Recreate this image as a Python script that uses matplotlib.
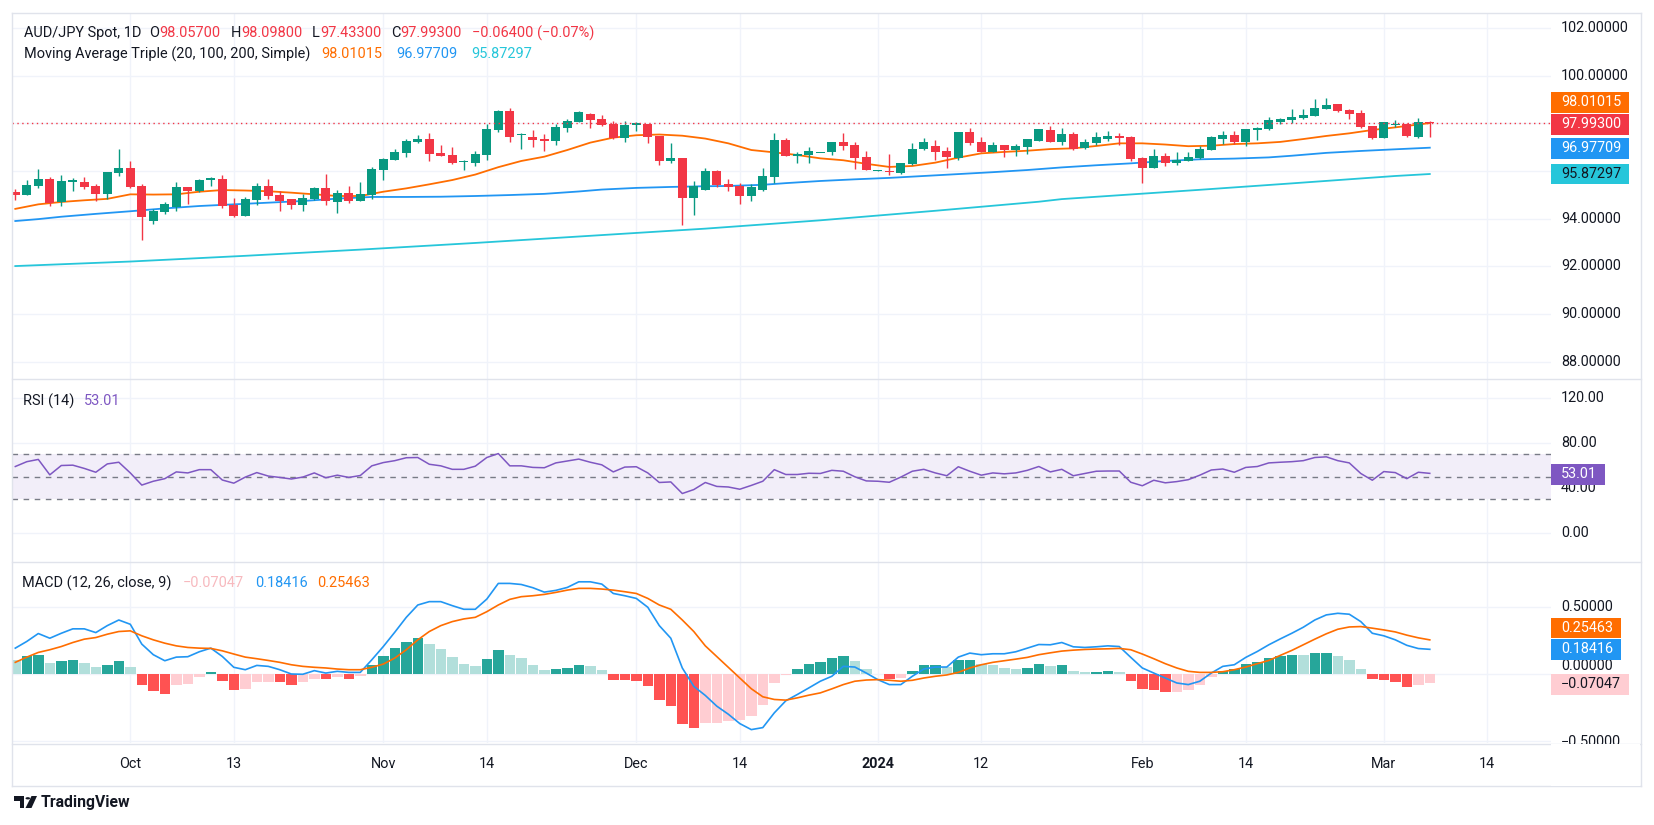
import numpy as np
import matplotlib
matplotlib.use("Agg")
import matplotlib.pyplot as plt
from matplotlib.patches import Rectangle, Polygon, Circle
from matplotlib.lines import Line2D

# ---------------- data ----------------
start_date = "2023-09-18"   # first daily bar (weekdays only)

opens = [95.12, 95.01, 95.37, 95.66, 94.70, 95.55, 95.54, 95.37, 95.04, 95.93,
         96.13, 95.37, 93.90, 94.29, 94.49, 95.33, 95.16, 95.64, 95.67, 94.57,
         94.11, 94.80, 95.37, 94.99, 94.83, 94.59, 94.83, 95.29, 94.71, 95.08,
         94.76, 94.99, 96.04, 96.46, 96.76, 97.22, 97.34, 96.76, 96.67, 96.37,
         96.34, 96.67, 97.72, 98.52, 97.51, 97.43, 97.34, 97.26, 97.81, 98.06,
         98.39, 98.18, 97.97, 97.39, 97.93, 97.97, 97.47, 96.42, 96.55, 94.87,
         95.22, 96.00, 95.46, 95.37, 94.97, 95.22, 95.76, 97.30, 96.64, 96.67,
         96.74, 96.80, 97.22, 97.09, 96.59, 96.01, 95.97, 95.93, 96.31, 96.92,
         97.05, 96.84, 96.55, 97.64, 97.22, 96.80, 97.09, 96.88, 97.01, 97.26,
         97.72, 97.23, 97.55, 96.96, 97.17, 97.34, 97.47, 97.43, 96.55, 96.13,
         96.63, 96.35, 96.42, 96.55, 96.89, 97.34, 97.51, 97.22, 97.73, 97.76,
         98.06, 98.14, 98.24, 98.31, 98.60, 98.81, 98.56, 98.43, 97.89, 97.39,
         97.93, 97.97, 97.44, 98.057]
highs = [95.24, 95.62, 96.08, 95.73, 95.83, 95.69, 95.73, 95.46, 95.96, 96.92,
         96.42, 95.46, 94.39, 94.70, 95.54, 95.33, 95.67, 95.75, 95.83, 94.87,
         94.91, 95.50, 95.67, 95.16, 94.83, 95.04, 95.33, 95.88, 95.20, 95.37,
         95.54, 96.17, 96.55, 96.92, 97.34, 97.51, 97.60, 97.09, 97.01, 96.45,
         96.84, 97.97, 98.56, 98.64, 97.60, 97.72, 97.55, 97.97, 98.18, 98.52,
         98.43, 98.35, 98.10, 98.10, 98.06, 97.97, 97.47, 97.18, 96.55, 95.58,
         96.13, 96.04, 95.67, 95.50, 95.46, 96.13, 97.60, 97.39, 96.80, 97.01,
         96.76, 97.22, 97.60, 97.22, 96.84, 96.04, 96.71, 96.34, 97.18, 97.39,
         97.30, 97.01, 97.64, 97.81, 97.43, 97.22, 97.09, 97.13, 97.34, 97.76,
         97.89, 97.80, 97.64, 97.34, 97.64, 97.68, 97.59, 97.47, 96.59, 96.92,
         96.76, 96.80, 96.80, 97.05, 97.47, 97.68, 97.68, 97.76, 97.85, 98.27,
         98.22, 98.60, 98.60, 99.02, 99.06, 98.81, 98.60, 98.56, 97.89, 98.06,
         98.14, 98.03, 98.22, 98.098]
lows = [94.78, 95.01, 95.29, 94.55, 94.55, 95.18, 95.23, 94.76, 94.84, 95.81,
        95.29, 93.10, 93.78, 94.21, 94.34, 94.63, 95.12, 95.37, 94.46, 94.07,
        94.11, 94.59, 94.84, 94.34, 94.42, 94.34, 94.80, 94.59, 94.25, 94.67,
        94.76, 94.84, 95.62, 96.46, 96.59, 97.18, 96.42, 96.63, 96.30, 96.04,
        96.21, 96.46, 97.64, 97.22, 96.92, 97.01, 96.84, 97.09, 97.64, 98.06,
        97.81, 97.89, 97.34, 97.22, 97.68, 97.18, 96.25, 96.34, 93.75, 94.16,
        95.22, 95.33, 95.18, 94.63, 94.76, 95.18, 95.51, 96.64, 96.34, 96.34,
        96.74, 96.67, 96.88, 96.08, 96.04, 96.01, 95.85, 95.89, 96.27, 96.88,
        96.46, 96.14, 96.46, 97.09, 96.80, 96.80, 96.59, 96.63, 96.71, 97.26,
        97.23, 97.09, 96.88, 96.92, 97.09, 97.26, 97.09, 96.42, 95.50, 96.13,
        96.21, 96.25, 96.42, 96.50, 96.89, 97.13, 97.13, 97.05, 97.30, 97.72,
        97.97, 98.01, 98.20, 98.31, 98.60, 98.48, 98.18, 97.80, 97.34, 97.39,
        97.85, 97.44, 97.38, 97.433]
closes = [95.01, 95.41, 95.66, 94.66, 95.58, 95.64, 95.34, 95.05, 95.96, 96.13,
          95.33, 94.05, 94.32, 94.62, 95.33, 95.16, 95.62, 95.68, 94.53, 94.13,
          94.83, 95.37, 94.97, 94.76, 94.59, 94.87, 95.29, 94.76, 95.08, 94.76,
          95.04, 96.08, 96.51, 96.80, 97.26, 97.34, 96.73, 96.63, 96.34, 96.41,
          96.71, 97.76, 98.52, 97.43, 97.55, 97.30, 97.26, 97.85, 98.10, 98.48,
          98.14, 97.93, 97.39, 97.93, 98.01, 97.43, 96.42, 96.55, 94.87, 95.37,
          96.00, 95.43, 95.34, 94.97, 95.33, 95.79, 97.30, 96.64, 96.71, 96.84,
          96.76, 97.22, 97.05, 96.55, 96.04, 96.04, 95.95, 96.34, 96.92, 97.22,
          96.81, 96.60, 97.64, 97.18, 96.80, 97.09, 96.88, 97.05, 97.34, 97.76,
          97.23, 97.55, 96.92, 97.22, 97.43, 97.47, 97.39, 96.50, 96.13, 96.63,
          96.34, 96.46, 96.59, 96.92, 97.43, 97.51, 97.22, 97.76, 97.80, 98.14,
          98.18, 98.27, 98.35, 98.64, 98.77, 98.52, 98.39, 97.85, 97.39, 98.06,
          97.97, 97.47, 98.06, 97.993]

# moving averages (bar position, value)
ma20_pos = [0, 2, 4, 6, 8, 10, 12, 14, 16, 18, 20, 22, 24, 26, 28, 30, 32, 34, 36, 38,
            40, 42, 44, 46, 48, 50, 52, 54, 56, 58, 60, 62, 64, 66, 68, 70, 72, 74, 76, 78,
            80, 82, 84, 86, 88, 90, 92, 94, 96, 98, 100, 102, 104, 106, 108, 110, 112, 114,
            116, 118, 120, 123]
ma20_val = [94.41, 94.60, 94.70, 94.77, 94.83, 95.02, 95.01, 95.02, 95.13, 95.20,
            95.18, 95.15, 95.09, 95.02, 94.95, 94.95, 95.13, 95.27, 95.44, 95.62,
            95.85, 96.16, 96.42, 96.60, 96.88, 97.19, 97.40, 97.50, 97.53, 97.48,
            97.36, 97.16, 96.88, 96.78, 96.67, 96.53, 96.45, 96.30, 96.17, 96.21,
            96.35, 96.56, 96.74, 96.80, 96.85, 96.92, 96.95, 97.05, 97.16, 97.16,
            97.11, 97.04, 97.06, 97.13, 97.16, 97.22, 97.34, 97.47, 97.58, 97.72,
            97.83, 98.01015]
ma100_pos = [0, 2, 4, 7, 10, 13, 16, 19, 22, 25, 28, 31, 34, 37, 40, 43, 46, 49, 51, 54,
             57, 60, 62, 65, 67, 70, 73, 76, 79, 82, 85, 88, 91, 94, 97, 100, 103, 106,
             109, 111, 114, 117, 120, 123]
ma100_val = [93.90, 93.98, 94.08, 94.20, 94.31, 94.43, 94.53, 94.60, 94.67, 94.74,
             94.84, 94.91, 94.91, 94.92, 94.95, 94.99, 95.04, 95.14, 95.22, 95.29,
             95.33, 95.36, 95.37, 95.42, 95.49, 95.58, 95.65, 95.71, 95.79, 95.87,
             95.95, 96.04, 96.15, 96.24, 96.32, 96.42, 96.49, 96.52, 96.57, 96.64,
             96.76, 96.84, 96.91, 96.97709]
ma200_pos = [0, 10, 20, 30, 40, 50, 60, 70, 80, 89, 91, 103, 111, 120, 123]
ma200_val = [92.01, 92.20, 92.44, 92.70, 92.98, 93.28, 93.58, 93.93, 94.33, 94.71,
             94.82, 95.21, 95.48, 95.79, 95.87297]

rsi = [59.1, 63.4, 65.4, 51.7, 60.0, 60.3, 57.4, 54.0, 61.4, 62.9,
       53.4, 42.6, 46.0, 48.3, 54.3, 53.4, 56.3, 56.3, 47.1, 44.3,
       49.7, 53.7, 50.6, 49.4, 48.0, 49.7, 53.4, 49.1, 51.4, 49.4,
       51.1, 59.7, 62.6, 64.3, 66.9, 67.1, 61.1, 59.7, 56.6, 56.6,
       59.4, 67.1, 70.6, 59.7, 59.7, 58.3, 58.0, 62.3, 64.0, 65.7,
       62.9, 60.6, 54.3, 58.6, 58.9, 53.4, 44.9, 45.4, 35.1, 38.6,
       44.9, 41.4, 40.9, 38.9, 42.3, 46.0, 56.3, 52.0, 52.0, 53.1,
       52.9, 55.7, 54.9, 50.0, 46.3, 46.0, 45.1, 49.7, 54.9, 56.6,
       53.4, 50.9, 58.9, 54.9, 51.4, 53.4, 52.6, 53.4, 55.7, 59.1,
       54.3, 56.6, 50.9, 52.9, 54.9, 55.1, 55.1, 45.1, 42.0, 46.9,
       44.6, 45.7, 47.4, 51.4, 56.0, 56.9, 54.0, 58.3, 59.1, 62.3,
       62.9, 63.4, 64.3, 67.1, 67.7, 64.3, 62.3, 52.9, 46.9, 54.6,
       53.7, 48.3, 54.0, 53.01]

macd = [0.193, 0.243, 0.302, 0.267, 0.304, 0.337, 0.337, 0.309, 0.361, 0.403,
        0.371, 0.223, 0.144, 0.099, 0.126, 0.129, 0.166, 0.193, 0.131, 0.050,
        0.032, 0.064, 0.057, 0.032, 0.000, -0.002, 0.025, 0.007, 0.020, 0.012,
        0.012, 0.106, 0.205, 0.312, 0.423, 0.515, 0.540, 0.540, 0.510, 0.483,
        0.483, 0.559, 0.676, 0.676, 0.668, 0.644, 0.611, 0.624, 0.646, 0.688,
        0.688, 0.671, 0.601, 0.584, 0.564, 0.498, 0.361, 0.267, 0.045, -0.092,
        -0.160, -0.240, -0.300, -0.370, -0.415, -0.400, -0.290, -0.200, -0.153, -0.104,
        -0.054, -0.017, 0.057, 0.052, 0.007, -0.042, -0.079, -0.079, -0.017, 0.037,
        0.052, 0.052, 0.126, 0.156, 0.144, 0.151, 0.151, 0.166, 0.193, 0.220,
        0.218, 0.235, 0.203, 0.198, 0.203, 0.210, 0.205, 0.124, 0.045, 0.007,
        -0.030, -0.067, -0.079, -0.054, 0.007, 0.057, 0.069, 0.124, 0.168, 0.218,
        0.262, 0.304, 0.349, 0.403, 0.441, 0.453, 0.446, 0.391, 0.304, 0.285,
        0.255, 0.214, 0.190, 0.18416]
signal = [0.087, 0.126, 0.161, 0.181, 0.205, 0.235, 0.260, 0.272, 0.297, 0.317,
          0.322, 0.285, 0.255, 0.230, 0.210, 0.198, 0.193, 0.191, 0.173, 0.149,
          0.126, 0.114, 0.101, 0.087, 0.069, 0.057, 0.050, 0.045, 0.037, 0.032,
          0.032, 0.050, 0.074, 0.119, 0.181, 0.255, 0.317, 0.361, 0.391, 0.411,
          0.423, 0.465, 0.515, 0.557, 0.577, 0.584, 0.594, 0.609, 0.626, 0.639,
          0.639, 0.634, 0.626, 0.614, 0.601, 0.564, 0.515, 0.483, 0.403, 0.317,
          0.210, 0.130, 0.050, -0.030, -0.110, -0.170, -0.190, -0.195, -0.178, -0.158,
          -0.141, -0.111, -0.079, -0.054, -0.045, -0.042, -0.047, -0.054, -0.047, -0.030,
          -0.017, -0.007, 0.012, 0.045, 0.069, 0.087, 0.099, 0.111, 0.124, 0.144,
          0.158, 0.171, 0.178, 0.183, 0.186, 0.188, 0.191, 0.181, 0.149, 0.114,
          0.077, 0.045, 0.020, 0.012, 0.012, 0.017, 0.032, 0.052, 0.077, 0.101,
          0.139, 0.176, 0.218, 0.260, 0.300, 0.334, 0.351, 0.354, 0.342, 0.329,
          0.314, 0.290, 0.270, 0.25463]
hist = [0.106, 0.131, 0.144, 0.084, 0.099, 0.106, 0.084, 0.050, 0.069, 0.099,
        0.054, -0.079, -0.129, -0.146, -0.079, -0.072, -0.025, 0.012, -0.054, -0.116,
        -0.109, -0.062, -0.057, -0.062, -0.079, -0.062, -0.035, -0.040, -0.025, -0.035,
        -0.017, 0.069, 0.136, 0.191, 0.238, 0.270, 0.225, 0.188, 0.124, 0.077,
        0.062, 0.114, 0.181, 0.144, 0.116, 0.069, 0.032, 0.035, 0.047, 0.069,
        0.057, 0.032, -0.045, -0.047, -0.054, -0.092, -0.191, -0.238, -0.372, -0.405,
        -0.367, -0.362, -0.354, -0.342, -0.314, -0.233, -0.069, -0.010, 0.040, 0.077,
        0.092, 0.121, 0.136, 0.099, 0.040, 0.002, -0.040, -0.032, 0.025, 0.069,
        0.070, 0.054, 0.106, 0.107, 0.077, 0.069, 0.047, 0.040, 0.047, 0.077,
        0.062, 0.069, 0.025, 0.017, 0.018, 0.019, 0.017, -0.054, -0.114, -0.121,
        -0.136, -0.135, -0.121, -0.084, -0.025, 0.025, 0.040, 0.077, 0.092, 0.121,
        0.136, 0.144, 0.143, 0.158, 0.159, 0.136, 0.106, 0.040, -0.040, -0.047,
        -0.062, -0.096, -0.081, -0.07047]

tick_dates = ["2023-10-02", "2023-10-13", "2023-11-01", "2023-11-14", "2023-12-01",
              "2023-12-14", "2024-01-01", "2024-01-12", "2024-02-01", "2024-02-14",
              "2024-03-01", "2024-03-14"]
tick_labels = ["Oct", "13", "Nov", "14", "Dec", "14", "2024", "12", "Feb", "14", "Mar", "14"]

price_ticks = [102, 100, 98, 96, 94, 92, 90, 88]
rsi_ticks = [120, 80, 40, 0]
macd_ticks = [0.5, 0.0, -0.5]

last_close = 97.993

# ---------------- style ----------------
FONT = ["Roboto", "DejaVu Sans"]
TXT = "#131722"
UP, DN = "#089981", "#F23645"
C20, C100, C200 = "#FF6D00", "#2196F3", "#26C6DA"
RSI_C = "#7E57C2"
GRID = "#F0F3FA"
BORDER = "#E0E3EB"
LEG = 10.45
AXF = 10.4

W, H = 1654, 825
fig = plt.figure(figsize=(W / 100, H / 100), dpi=100)
fig.patch.set_facecolor("white")

L, R = 12, 1551
def rect(x0, y0, x1, y1):
    return [x0 / W, 1 - y1 / H, (x1 - x0) / W, (y1 - y0) / H]

# bar index -> pixel: 15.3 + 11.5*pos
XL = (L - 15.3) / 11.5
XR = (R - 15.3) / 11.5

n = len(closes)
xs = np.arange(n)
tick_pos = [int(np.busday_count(start_date, d)) for d in tick_dates]

def base_axes(r, ylim):
    ax = fig.add_axes(r)
    ax.set_xlim(XL, XR)
    ax.set_ylim(*ylim)
    for s in ax.spines.values():
        s.set_visible(False)
    ax.set_xticks([]); ax.set_yticks([])
    ax.set_facecolor("none")
    for tp in tick_pos:
        ax.axvline(tp, color=GRID, lw=1, zorder=0)
    return ax

# price pane: y=13..379 px
p_top = 102 + (28 - 13) / 23.83
p_bot = 102 - (379 - 28) / 23.83
axp = base_axes(rect(L, 13, R, 379), (p_bot, p_top))
for v in price_ticks:
    axp.axhline(v, color=GRID, lw=1, zorder=0)
for i in range(n):
    o, h, l, c = opens[i], highs[i], lows[i], closes[i]
    col = UP if c >= o else DN
    axp.vlines(xs[i], l, h, color=col, lw=1.0, zorder=3)
    lo = min(o, c)
    bh = max(abs(c - o), 0.045)
    axp.add_patch(Rectangle((xs[i] - 0.38, lo), 0.76, bh, facecolor=col,
                            edgecolor="none", zorder=4))
axp.plot(ma200_pos, ma200_val, color=C200, lw=1.3, zorder=2)
axp.plot(ma100_pos, ma100_val, color=C100, lw=1.3, zorder=2)
axp.plot(ma20_pos, ma20_val, color=C20, lw=1.3, zorder=2)
axp.axhline(last_close, color=DN, lw=1, linestyle=(0, (1, 2.5)), zorder=5)

# RSI pane: y=379..562, 0 at 533, 1.125 px/unit
r_top = (533 - 379) / 1.125
r_bot = -(562 - 533) / 1.125
axr = base_axes(rect(L, 379, R, 562), (r_bot, r_top))
for v in rsi_ticks:
    axr.axhline(v, color=GRID, lw=1, zorder=0)
axr.axhspan(30, 70, color="#F2EEF9", lw=0, zorder=0.5)
for v in (70, 50, 30):
    axr.axhline(v, color="#787B86", lw=1, linestyle=(0, (4, 4)), zorder=1)
axr.plot(xs, rsi, color=RSI_C, lw=1.1, zorder=3)

# MACD pane: y=562..743, 0 at 674, 134 px/unit
m_top = (674 - 562) / 134
m_bot = -(743 - 674) / 134
axm = base_axes(rect(L, 562, R, 743), (m_bot, m_top))
for v in macd_ticks:
    axm.axhline(v, color=GRID, lw=1, zorder=0)
hcols = []
for i, v in enumerate(hist):
    prev = hist[i - 1] if i > 0 else None
    if v >= 0:
        hcols.append("#26A69A" if (prev is not None and v > prev) else "#B2DFDB")
    else:
        hcols.append("#FF5252" if (prev is not None and v < prev) else "#FFCDD2")
axm.bar(xs, hist, width=0.92, color=hcols, zorder=2, linewidth=0)
axm.plot(xs, macd, color="#2196F3", lw=1.2, zorder=3)
axm.plot(xs, signal, color="#FF6D00", lw=1.2, zorder=3)

# ---------------- frame / separators ----------------
def hline(y, x0=L, x1=1641, color=BORDER, lw=1):
    fig.add_artist(Line2D([x0 / W, x1 / W], [1 - y / H, 1 - y / H], color=color, lw=lw,
                          transform=fig.transFigure, zorder=1))
def vline(x, y0, y1, color=BORDER, lw=1):
    fig.add_artist(Line2D([x / W, x / W], [1 - y0 / H, 1 - y1 / H], color=color, lw=lw,
                          transform=fig.transFigure, zorder=1))
hline(13); hline(379); hline(562); hline(786)
vline(L, 13, 786); vline(1641, 13, 786)

# ---------------- texts ----------------
renderer = fig.canvas.get_renderer()

def ftext(x, y, s, color=TXT, size=AXF, ha="left", weight="normal", z=3):
    return fig.text(x / W, 1 - y / H, s, color=color, fontsize=size, ha=ha, va="center",
                    family=FONT, fontweight=weight, zorder=z)

def seq(x, y, parts, size=LEG):
    for s, c, gap in parts:
        t = ftext(x, y, s, color=c, size=size)
        x += t.get_window_extent(renderer).width + gap

seq(24, 33, [("AUD/JPY Spot, 1D", TXT, 8), ("O", TXT, 0), ("98.05700", DN, 10),
             ("H", TXT, 0), ("98.09800", DN, 10), ("L", TXT, 0), ("97.43300", DN, 10),
             ("C", TXT, 0), ("97.99300", DN, 10), ("\u22120.06400 (\u22120.07%)", DN, 0)])
seq(24, 54, [("Moving Average Triple (20, 100, 200, Simple)", TXT, 11),
             ("98.01015", C20, 14), ("96.97709", C100, 14), ("95.87297", C200, 0)])
seq(23, 401, [("RSI (14)", TXT, 10), ("53.01", RSI_C, 0)])
seq(22, 583, [("MACD (12, 26, close, 9)", TXT, 11), ("\u22120.07047", "#F7B9BE", 11),
              ("0.18416", "#2196F3", 10), ("0.25463", "#FF6D00", 0)])

# right axis labels
AX_X = 1561
for v in price_ticks:
    ftext(AX_X, 28 + (102 - v) * 23.83, f"{v:.5f}")
for v in rsi_ticks:
    ftext(AX_X, 533 - v * 1.125, f"{v:.2f}")
macd_label_y = {0.5: 607, 0.0: 666.5, -0.5: 742}
for v in macd_ticks:
    s = f"{v:.5f}".replace("-", "\u2212")
    ftext(AX_X, macd_label_y[v], s)
# hide label part below the macd pane
fig.add_artist(Rectangle((1551 / W, 1 - 785.5 / H), 89 / W, 41.5 / H, facecolor="white",
                         edgecolor="none", transform=fig.transFigure, zorder=4))
hline(743.5)

def box(y_c, w, s, bg, fg="white"):
    fig.add_artist(Rectangle((1551 / W, 1 - (y_c + 10.4) / H), w / W, 20.8 / H,
                             facecolor=bg, edgecolor="none", transform=fig.transFigure,
                             zorder=5))
    ftext(AX_X, y_c, s, color=fg, z=6)

box(102.5, 78, "98.01015", C20)
box(124.3, 78, "97.99300", DN)
box(148.3, 78, "96.97709", C100)
box(174.0, 78, "95.87297", C200, fg=TXT)
box(474.3, 54, "53.01", RSI_C)
box(628.0, 70, "0.25463", "#FF6D00")
box(649.3, 70, "0.18416", "#2196F3")
box(684.3, 78, "\u22120.07047", "#FFCDD2", fg=TXT)

# x-axis labels
for tp, lab in zip(tick_pos, tick_labels):
    ftext(15.3 + 11.5 * tp, 763.5, lab, ha="center",
          weight="bold" if lab == "2024" else "normal")

# TradingView logo
ink = "#131722"
fig.add_artist(Polygon([(14 / W, 1 - 796 / H), (24 / W, 1 - 796 / H), (24 / W, 1 - 808 / H),
                        (19.5 / W, 1 - 808 / H), (19.5 / W, 1 - 800.5 / H), (14 / W, 1 - 800.5 / H)],
                       closed=True, facecolor=ink, edgecolor="none", transform=fig.transFigure))
fig.add_artist(Circle((27.8 / W, 1 - 798.3 / H), 2.3 / W, facecolor=ink, edgecolor="none",
                      transform=fig.transFigure))
fig.add_artist(Polygon([(31.5 / W, 1 - 796 / H), (37 / W, 1 - 796 / H), (31.5 / W, 1 - 808 / H),
                        (25.5 / W, 1 - 808 / H)], closed=True, facecolor=ink, edgecolor="none",
                       transform=fig.transFigure))
ftext(41, 802, "TradingView", color=ink, size=11.3, weight="bold")

fig.savefig("out.png", dpi=100, facecolor="white")
